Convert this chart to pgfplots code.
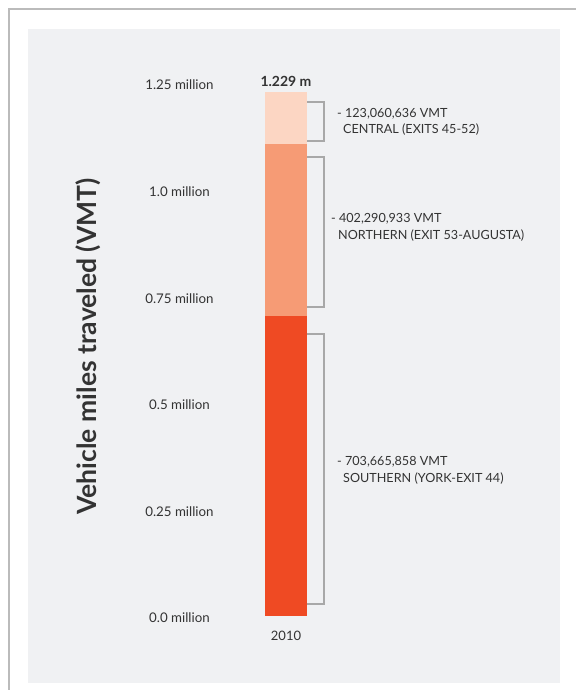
\documentclass[border=0pt]{standalone}
\usepackage{pgfplots}
\pgfplotsset{compat=1.18}
\usepackage{fontspec}
\setmainfont{Lato}
\definecolor{panel}{HTML}{F0F1F3}
\definecolor{frame}{HTML}{BBBBBB}
\definecolor{southc}{HTML}{EF4A23}
\definecolor{northc}{HTML}{F69B75}
\definecolor{centc}{HTML}{FCD6C3}
\definecolor{txt}{HTML}{333333}
\definecolor{brk}{HTML}{A8A8A8}
\tikzset{lbl/.style={anchor=west, align=left, inner sep=0pt, text=txt, font=\fontsize{12.6}{16.5}\selectfont}}
\begin{document}
\begin{tikzpicture}[x=1pt,y=1pt]
\useasboundingbox (0,0) rectangle (576,690);
\fill[white] (0,0) rectangle (576,690);
\draw[line width=2pt, frame] (8.5,0) -- (8.5,681) -- (576,681);
\fill[panel] (28,7) rectangle (560,661);
\begin{axis}[
  at={(186pt,74pt)}, anchor=south west,
  scale only axis, width=200pt, height=533pt,
  xmin=-1, xmax=1, ymin=0, ymax=1.25,
  axis line style={draw=none}, tick style={draw=none},
  ybar stacked, bar width=42pt,
  xtick={0}, xticklabels={2010},
  xticklabel style={font=\fontsize{13}{15}\selectfont, text=txt, yshift=-12pt},
  ytick={0,0.25,0.5,0.75,1.0,1.25},
  yticklabels={0.0 million,0.25 million,0.5 million,0.75 million,1.0 million,1.25 million},
  yticklabel style={font=\fontsize{13.3}{15}\selectfont, text=txt, anchor=center, xshift=-6.5pt, yshift=-2pt},
  ylabel={\textbf{Vehicle miles traveled (VMT)}},
  ylabel style={font=\fontsize{26.5}{30}\selectfont, text=txt, at={(axis description cs:-0.49,0.506)}, anchor=center},
  clip=false,
]
\addplot[fill=southc, draw=none] coordinates {(0,0.703665858)};
\addplot[fill=northc, draw=none] coordinates {(0,0.402290933)};
\addplot[fill=centc, draw=none] coordinates {(0,0.123060636)};
\draw[brk, line width=1.2pt] (axis cs:0.21,1.2055) -- (axis cs:0.38,1.2055) -- (axis cs:0.38,1.114) -- (axis cs:0.21,1.114);
\draw[brk, line width=1.2pt] (axis cs:0.21,1.0765) -- (axis cs:0.38,1.0765) -- (axis cs:0.38,0.7247) -- (axis cs:0.21,0.7247);
\draw[brk, line width=1.2pt] (axis cs:0.21,0.6614) -- (axis cs:0.38,0.6614) -- (axis cs:0.38,0.0281) -- (axis cs:0.21,0.0281);
\node[anchor=center, text=txt, font=\fontsize{14}{16}\selectfont\bfseries, inner sep=0pt] at (axis cs:0,1.2545) {1.229 m};
\node[lbl] at (axis cs:0.51,1.1585) {- 123,060,636 VMT\\\hspace*{6pt}CENTRAL (EXITS 45-52)};
\node[lbl] at (axis cs:0.45,0.912) {- 402,290,933 VMT\\\hspace*{7pt}NORTHERN (EXIT 53-AUGUSTA)};
\node[lbl] at (axis cs:0.51,0.342) {- 703,665,858 VMT\\\hspace*{6pt}SOUTHERN (YORK-EXIT 44)};
\end{axis}
\end{tikzpicture}
\end{document}
